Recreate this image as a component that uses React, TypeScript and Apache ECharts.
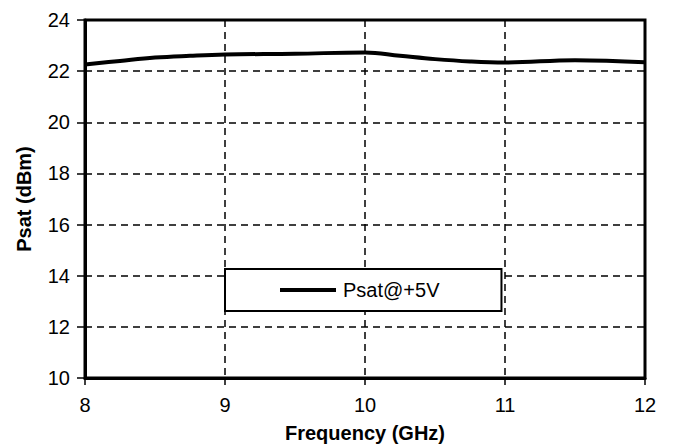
import React, { useEffect, useRef } from "react";
import * as echarts from "echarts";

const freqGHz = [8, 8.25, 8.5, 8.75, 9, 9.5, 10, 10.25, 10.5, 10.75, 11, 11.5, 12];
const psatDbm = [22.26, 22.4, 22.53, 22.6, 22.65, 22.68, 22.73, 22.6, 22.47, 22.38, 22.34, 22.43, 22.35];
const seriesName = "Psat@+5V";
const xTitle = "Frequency (GHz)";
const yTitle = "Psat (dBm)";

export default function App() {
  const ref = useRef<HTMLDivElement>(null);
  useEffect(() => {
    if (!ref.current) return;
    const chart = echarts.init(ref.current, null, { renderer: "svg" });
    const font = "'Liberation Sans', Arial, sans-serif";
    chart.setOption({
      animation: false,
      backgroundColor: "#fff",
      grid: {
        left: 85,
        right: 28,
        top: 20,
        bottom: 65,
        show: true,
        borderColor: "#000",
        borderWidth: 3,
        backgroundColor: "transparent",
      },
      legend: {
        data: [seriesName],
        left: 225,
        top: 269,
        orient: "horizontal",
        icon: "rect",
        backgroundColor: "#fff",
        borderColor: "#000",
        borderWidth: 2,
        padding: [11, 62, 11, 55],
        itemWidth: 56,
        itemHeight: 4,
        itemGap: 6,
        textStyle: { fontFamily: font, fontSize: 20, color: "#000", padding: [0, 0, 0, 2] },
        z: 10,
      },
      xAxis: {
        type: "value",
        min: 8,
        max: 12,
        interval: 1,
        name: xTitle,
        nameLocation: "middle",
        nameGap: 45,
        nameTextStyle: { fontFamily: font, fontSize: 20, fontWeight: "bold", color: "#000" },
        axisLine: { show: true, lineStyle: { color: "#000", width: 3 } },
        axisTick: { show: true, inside: false, length: 7, lineStyle: { color: "#000", width: 1.5 } },
        axisLabel: { fontFamily: font, fontSize: 20, color: "#000", margin: 17 },
        splitLine: { show: true, lineStyle: { color: "#000", width: 1.5, type: [7, 5] } },
      },
      yAxis: {
        type: "value",
        min: 10,
        max: 24,
        interval: 2,
        name: yTitle,
        nameLocation: "middle",
        nameGap: 51,
        nameTextStyle: { fontFamily: font, fontSize: 20, fontWeight: "bold", color: "#000" },
        axisLine: { show: true, lineStyle: { color: "#000", width: 3 } },
        axisTick: { show: true, inside: false, length: 8, lineStyle: { color: "#000", width: 1.5 } },
        axisLabel: { fontFamily: font, fontSize: 20, color: "#000", margin: 15 },
        splitLine: { show: true, lineStyle: { color: "#000", width: 1.5, type: [7, 5] } },
      },
      series: [
        {
          name: seriesName,
          type: "line",
          data: freqGHz.map((f, i) => [f, psatDbm[i]]),
          smooth: 0.4,
          symbol: "none",
          lineStyle: { color: "#000", width: 4 },
          itemStyle: { color: "#000" },
          z: 5,
        },
      ],
    });
    return () => chart.dispose();
  }, []);
  return (
    <div
      ref={ref}
      style={{ position: "fixed", left: 0, top: 0, width: 673, height: 448 }}
    />
  );
}
